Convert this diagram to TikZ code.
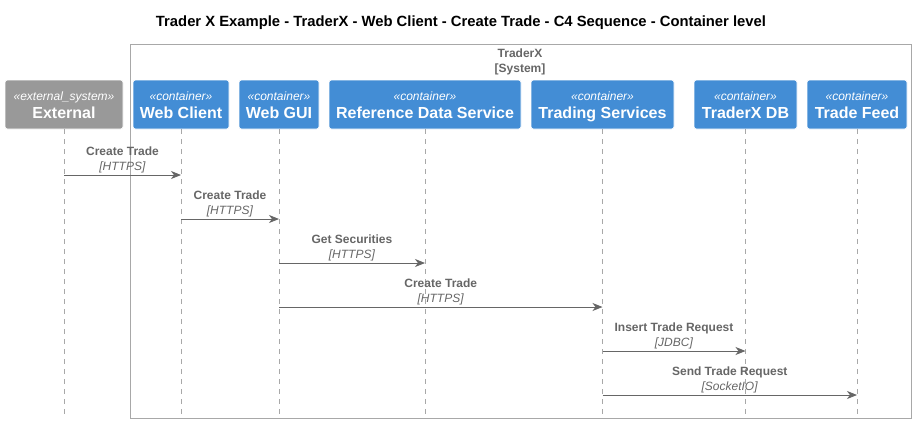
\documentclass[tikz,border=0pt]{standalone}
\usepackage{fontspec}
\setmainfont{Liberation Sans}
\usetikzlibrary{positioning,arrows.meta}

\definecolor{c4blue}{HTML}{438DD5}
\definecolor{c4grey}{HTML}{999999}
\definecolor{msggrey}{HTML}{666666}
\definecolor{linegrey}{HTML}{A8A8A8}

\newcommand{\partlabel}[2]{{\fontsize{12}{13}\selectfont\itshape\rule{0pt}{13pt}«#1»}\\{\bfseries\rule[-4pt]{0pt}{4pt}#2}}

\begin{document}
\begin{tikzpicture}[
  x=1pt, y=-1pt,
  box/.style={
    rectangle,
    rounded corners=2.5pt,
    minimum height=49pt,
    inner sep=0pt,
    align=center,
    text=white,
    draw=white,
    line width=0.6pt,
    font=\fontsize{16}{18}\selectfont,
  },
  container/.style={
    box,
    fill=c4blue,
  },
  extsys/.style={
    box,
    fill=c4grey,
  },
  lifeline/.style={
    draw=linegrey,
    dash pattern=on 5pt off 5pt,
    line width=0.6pt,
  },
  msg/.style={
    draw=msggrey,
    -{Stealth[length=10pt,width=8pt,inset=3pt]},
    line width=0.9pt,
  },
  lbl/.style={
    text=msggrey,
    align=center,
    inner sep=0pt,
    font=\fontsize{12}{15}\selectfont,
  },
]
\useasboundingbox (0,0) rectangle (916,424);

% Title
\node[font=\fontsize{14.8}{16}\selectfont\bfseries] (title) at (461,23)
  {Trader X Example - TraderX - Web Client - Create Trade - C4 Sequence - Container level};

% System boundary
\draw[draw=linegrey, line width=0.8pt] (130,44) rectangle (911,418);
\node[lbl, font=\fontsize{12}{15}\selectfont\bfseries] (sys) at (520,61.5)
  {TraderX\\{}[System]};

% Participants
\node[extsys, minimum width=118pt] (ext) at (64,104.5)
  {\partlabel{external\_system}{External}};
\node[container, minimum width=96pt] (webclient) at (181,104.5)
  {\partlabel{container}{Web Client}};
\node[container, minimum width=80pt] (webgui) at (279,104.5)
  {\partlabel{container}{Web GUI}};
\node[container, minimum width=192pt] (refdata) at (425,104.5)
  {\partlabel{container}{Reference Data Service}};
\node[container, minimum width=143pt] (trading) at (602.5,104.5)
  {\partlabel{container}{Trading Services}};
\node[container, minimum width=103pt] (db) at (745.5,104.5)
  {\partlabel{container}{TraderX DB}};
\node[container, minimum width=100pt] (feed) at (857,104.5)
  {\partlabel{container}{Trade Feed}};

% Lifelines
\coordinate (bottom) at (0,415);
\foreach \p in {ext,webclient,webgui,refdata,trading,db,feed}
  \draw[lifeline] (\p.south) -- (\p |- bottom);

% Message rows
\foreach \i/\y in {1/175,2/219,3/263,4/307,5/351,6/395}
  \coordinate (r\i) at (0,\y);

% Messages
\draw[msg] (ext |- r1) -- node[lbl, above=2pt] {\textbf{Create Trade}\\\textit{[HTTPS]}} (webclient |- r1);
\draw[msg] (webclient |- r2) -- node[lbl, above=2pt] {\textbf{Create Trade}\\\textit{[HTTPS]}} (webgui |- r2);
\draw[msg] (webgui |- r3) -- node[lbl, above=2pt] {\textbf{Get Securities}\\\textit{[HTTPS]}} (refdata |- r3);
\draw[msg] (webgui |- r4) -- node[lbl, above=2pt] {\textbf{Create Trade}\\\textit{[HTTPS]}} (trading |- r4);
\draw[msg] (trading |- r5) -- node[lbl, above=2pt] {\textbf{Insert Trade Request}\\\textit{[JDBC]}} (db |- r5);
\draw[msg] (trading |- r6) -- node[lbl, above=2pt] {\textbf{Send Trade Request}\\\textit{[SocketIO]}} (feed |- r6);

\end{tikzpicture}
\end{document}
